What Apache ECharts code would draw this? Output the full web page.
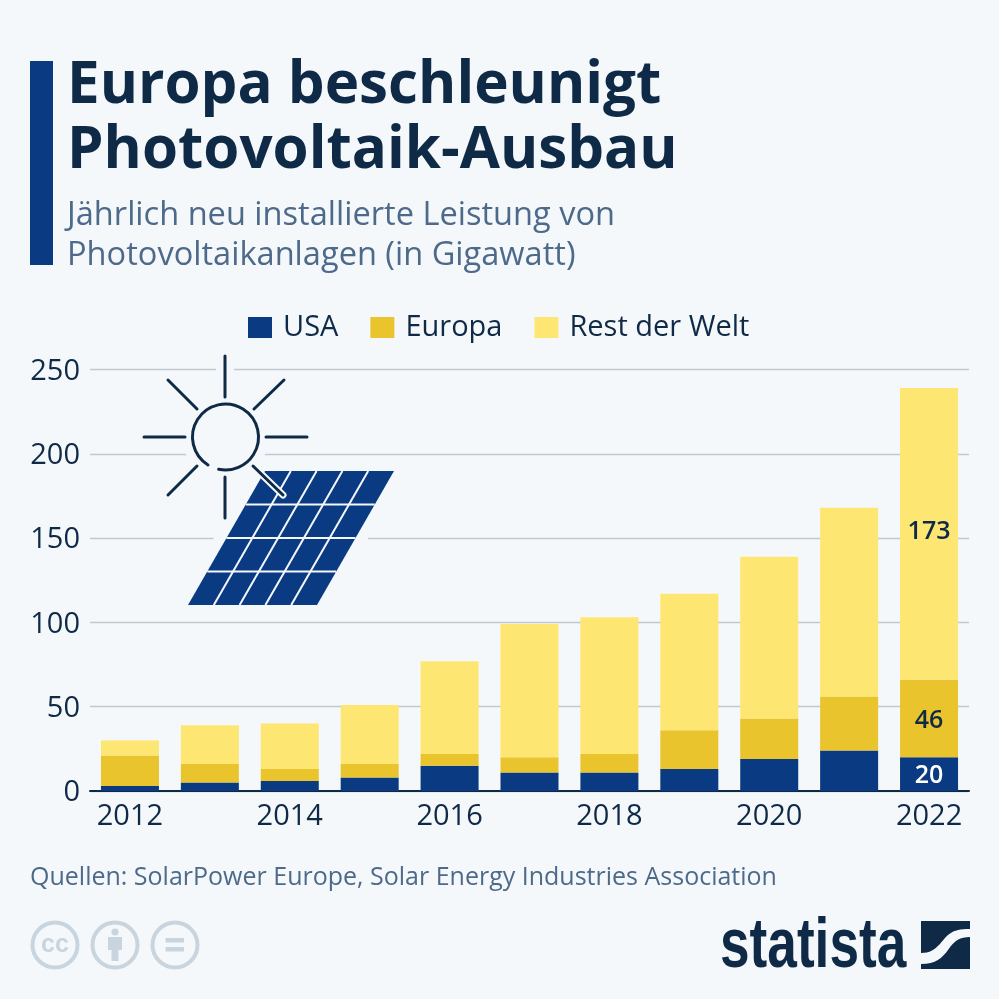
<!DOCTYPE html>
<html>
<head>
<meta charset="utf-8">
<title>Europa beschleunigt Photovoltaik-Ausbau</title>
<style>
  html, body { margin: 0; padding: 0; background: #f5f8fb; }
  #main { width: 999px; height: 999px; }
</style>
<script src="https://cdn.jsdelivr.net/npm/echarts@6/dist/echarts.min.js"></script>
</head>
<body>
<div id="main"></div>
<script>
var years = ['2012', '2013', '2014', '2015', '2016', '2017', '2018', '2019', '2020', '2021', '2022'];
var usa = [3, 5, 6, 8, 15, 11, 11, 13, 19, 24, 20];
var europa = [18, 11, 7, 8, 7, 9, 11, 23, 24, 32, 46];
var restWelt = [9, 23, 27, 35, 55, 79, 81, 81, 96, 112, 173];
var yTicks = [0, 50, 100, 150, 200, 250];

var BG = '#f5f8fb';
var DARK = '#0f2a47';
var BLUE = '#0a3a82';
var MID = '#e9c42c';
var LIGHT = '#fee673';
var SLATE = '#4d6a8a';
var FONT = '"Open Sans", sans-serif';
var CCGREY = '#c9d5de';

echarts.graphic.registerShape('logoMark', echarts.graphic.extendPath(
  'M921 921L970 921L970 929C950 929 948 935 940 944C934 950 930 953 921 953Z M970 937C960 937 955 940 948 950C942 958 936 964 921 964L921 969L970 969Z',
  {}
));

// nur der letzte Balken bekommt Werte
function lastLabel(color, dy) {
  return {
    show: true,
    position: 'inside',
    offset: [0, dy],
    fontFamily: FONT,
    fontSize: 25,
    fontWeight: 600,
    color: color,
    formatter: function(p) {
      return p.dataIndex === years.length - 1 ? String(p.value) : '';
    }
  };
}

function bar(name, data, color, labelColor, dy) {
  return {
    name: name,
    type: 'bar',
    stack: 'total',
    barWidth: 58,
    itemStyle: { color: color },
    label: lastLabel(labelColor, dy),
    data: data
  };
}

function line(x1, y1, x2, y2, width, color, z) {
  return {
    type: 'line',
    z: z,
    shape: { x1: x1, y1: y1, x2: x2, y2: y2 },
    style: { stroke: color, lineWidth: width, lineCap: 'round' }
  };
}

// Sonne und Solarmodul
var rays = [
  [225, 356, 225, 397], [225, 477, 225, 518], [144, 437, 185, 437], [266, 437, 307, 437],
  [168, 380, 197, 409], [284, 380, 254, 409], [197, 466, 168, 495], [253, 466, 283, 495]
];
var panelTop = [265, 394];
var panelBottom = [188, 317];
var panelY = [471, 605];

function icon() {
  var out = [];
  var i;
  // Aussparung in den Gitterlinien
  for (i = 0; i < rays.length; i++) {
    out.push(line(rays[i][0], rays[i][1], rays[i][2], rays[i][3], 18, BG, 20));
  }
  out.push({
    type: 'circle', z: 20,
    shape: { cx: 225.5, cy: 437, r: 33 },
    style: { fill: BG, stroke: BG, lineWidth: 20 }
  });
  out.push({
    type: 'polygon', z: 20,
    shape: { points: [[panelTop[0], panelY[0]], [panelTop[1], panelY[0]], [panelBottom[1], panelY[1]], [panelBottom[0], panelY[1]]] },
    style: { fill: BG, stroke: BG, lineWidth: 22, lineJoin: 'round' }
  });
  out.push({
    type: 'polygon', z: 21,
    shape: { points: [[panelTop[0], panelY[0]], [panelTop[1], panelY[0]], [panelBottom[1], panelY[1]], [panelBottom[0], panelY[1]]] },
    style: { fill: BLUE }
  });
  for (i = 1; i < 5; i++) {
    var f = i / 5;
    out.push({
      type: 'line', z: 22,
      shape: {
        x1: panelTop[0] + (panelTop[1] - panelTop[0]) * f, y1: panelY[0],
        x2: panelBottom[0] + (panelBottom[1] - panelBottom[0]) * f, y2: panelY[1]
      },
      style: { stroke: BG, lineWidth: 2 }
    });
  }
  for (i = 1; i < 4; i++) {
    var g = i / 4;
    out.push({
      type: 'line', z: 22,
      shape: {
        x1: panelTop[0] + (panelBottom[0] - panelTop[0]) * g, y1: panelY[0] + (panelY[1] - panelY[0]) * g,
        x2: panelTop[1] + (panelBottom[1] - panelTop[1]) * g, y2: panelY[0] + (panelY[1] - panelY[0]) * g
      },
      style: { stroke: BG, lineWidth: 2 }
    });
  }
  out.push(line(253, 466, 283, 495, 7, BG, 23));
  for (i = 0; i < rays.length; i++) {
    out.push(line(rays[i][0], rays[i][1], rays[i][2], rays[i][3], 3, DARK, 24));
  }
  out.push({
    type: 'arc', z: 24,
    shape: {
      cx: 225.5, cy: 437, r: 33,
      startAngle: 122 * Math.PI / 180,
      endAngle: (102 + 360) * Math.PI / 180,
      clockwise: true
    },
    style: { fill: 'none', stroke: DARK, lineWidth: 3, lineCap: 'round' }
  });
  return out;
}

function licence() {
  var out = [];
  var centers = [55, 115, 175];
  for (var i = 0; i < centers.length; i++) {
    out.push({
      type: 'circle',
      shape: { cx: centers[i], cy: 945, r: 22.5 },
      style: { fill: 'none', stroke: CCGREY, lineWidth: 4 }
    });
  }
  out.push({
    type: 'text', x: 55, y: 945,
    style: { text: 'cc', fill: CCGREY, font: 'bold 25px "Liberation Sans"', align: 'center', verticalAlign: 'middle' }
  });
  out.push({ type: 'circle', shape: { cx: 115, cy: 932, r: 3.6 }, style: { fill: CCGREY } });
  out.push({ type: 'rect', shape: { x: 108, y: 937, width: 14, height: 13 }, style: { fill: CCGREY } });
  out.push({ type: 'rect', shape: { x: 111.5, y: 950, width: 7, height: 11 }, style: { fill: CCGREY } });
  out.push({ type: 'rect', shape: { x: 165.5, y: 938, width: 18.5, height: 4.5 }, style: { fill: CCGREY } });
  out.push({ type: 'rect', shape: { x: 165.5, y: 947, width: 18.5, height: 4.5 }, style: { fill: CCGREY } });
  return out;
}

function logo() {
  return [
    {
      type: 'text', x: 720, y: 948, scaleX: 0.76,
      style: { text: 'statista', fill: DARK, font: 'bold 70px "Liberation Sans"', align: 'left', verticalAlign: 'middle' }
    },
    { type: 'logoMark', style: { fill: DARK } }
  ];
}

var myChart = echarts.init(document.getElementById('main'), null, { renderer: 'canvas' });
myChart.setOption({
  backgroundColor: BG,
  animation: false,
  title: [
    {
      text: 'Europa beschleunigt\nPhotovoltaik-Ausbau',
      left: 67, top: 54, padding: 0,
      textStyle: { fontFamily: FONT, fontSize: 58.3, fontWeight: 700, color: DARK, lineHeight: 65 }
    },
    {
      text: 'Jährlich neu installierte Leistung von\nPhotovoltaikanlagen (in Gigawatt)',
      left: 67, top: 196, padding: 0,
      textStyle: { fontFamily: FONT, fontSize: 32.6, fontWeight: 400, color: SLATE, lineHeight: 40 }
    },
    {
      text: 'Quellen: SolarPower Europe, Solar Energy Industries Association',
      left: 30, top: 862, padding: 0,
      textStyle: { fontFamily: FONT, fontSize: 25, fontWeight: 400, color: SLATE, lineHeight: 32 }
    }
  ],
  legend: {
    top: 308,
    left: 243,
    itemWidth: 24,
    itemHeight: 21,
    itemGap: 32,
    icon: 'rect',
    textStyle: { fontFamily: FONT, fontSize: 29, color: DARK, padding: [0, 0, 0, 6] },
    data: ['USA', 'Europa', 'Rest der Welt']
  },
  grid: { left: 90, right: 30, top: 369.5, bottom: 208 },
  xAxis: {
    type: 'category',
    data: years,
    axisTick: { show: false },
    axisLine: { lineStyle: { color: DARK, width: 2 } },
    axisLabel: { interval: 1, fontFamily: FONT, fontSize: 29, color: DARK, margin: 11 }
  },
  yAxis: {
    type: 'value',
    min: yTicks[0],
    max: yTicks[yTicks.length - 1],
    interval: 50,
    axisLine: { show: false },
    axisTick: { show: false },
    axisLabel: {
      margin: 10,
      formatter: '{v|{value}}',
      rich: { v: { fontFamily: FONT, fontSize: 29, color: DARK, padding: [4, 0, 0, 0] } }
    },
    splitLine: { lineStyle: { color: '#c0c8d0', width: 1.4 } }
  },
  series: [
    bar('USA', usa, BLUE, '#ffffff', 2),
    bar('Europa', europa, MID, DARK, 2),
    bar('Rest der Welt', restWelt, LIGHT, DARK, -2)
  ],
  graphic: [{ type: 'rect', shape: { x: 30, y: 61, width: 23, height: 204 }, style: { fill: BLUE } }]
    .concat(icon(), licence(), logo())
});
</script>
</body>
</html>
